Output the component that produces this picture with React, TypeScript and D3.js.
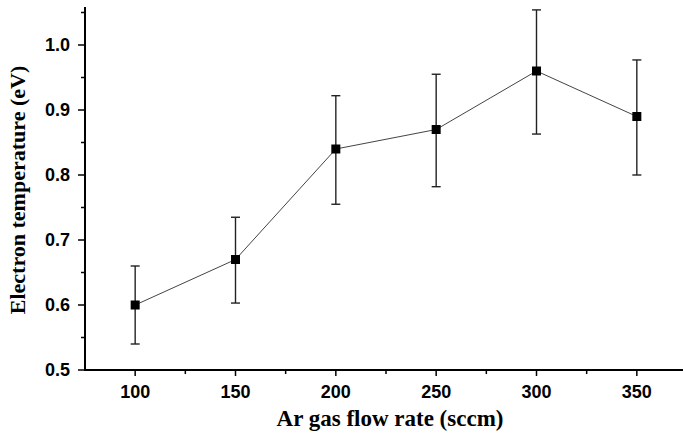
import React from 'react';
import { scaleLinear, line, range } from 'd3';

const width = 683;
const height = 434;

// data
const flowRates = [100, 150, 200, 250, 300, 350];
const temperature = [0.60, 0.67, 0.84, 0.87, 0.96, 0.89];
const errLow = [0.54, 0.603, 0.755, 0.782, 0.863, 0.80];
const errHigh = [0.66, 0.735, 0.922, 0.955, 1.054, 0.977];

const xTicks = [100, 150, 200, 250, 300, 350];
const yTicks = [0.5, 0.6, 0.7, 0.8, 0.9, 1.0];

const x = scaleLinear().domain([75, 375]).range([85, 687]);
const y = scaleLinear().domain([0.5, 1.06]).range([370, 6]);

const sans = '"Liberation Sans", Arial, sans-serif';
const serif = '"Liberation Serif", "Times New Roman", serif';

const App = () => {
    const pts = flowRates.map((f, i) => ({ f, t: temperature[i], lo: errLow[i], hi: errHigh[i] }));
    const path = line<any>().x(d => x(d.f)).y(d => y(d.t))(pts);
    const yMinor = range(0.55, 1.06, 0.1);
    const xMinor = range(125, 376, 50);

    return (
        <svg width={width} height={height} style={{ position: 'absolute', left: 0, top: 0, background: '#fff' }}>
            {/* connecting line */}
            <path d={path || ''} fill="none" stroke="#444" strokeWidth={1} />

            {/* error bars */}
            {pts.map((d, i) => (
                <g key={i} stroke="#222" strokeWidth={1.4}>
                    <line x1={x(d.f)} x2={x(d.f)} y1={y(d.lo)} y2={y(d.hi)} />
                    <line x1={x(d.f) - 4.5} x2={x(d.f) + 4.5} y1={y(d.lo)} y2={y(d.lo)} />
                    <line x1={x(d.f) - 4.5} x2={x(d.f) + 4.5} y1={y(d.hi)} y2={y(d.hi)} />
                </g>
            ))}

            {/* markers */}
            {pts.map((d, i) => (
                <rect key={i} x={x(d.f) - 4.5} y={y(d.t) - 4.5} width={9} height={9} fill="#000" />
            ))}

            {/* y axis */}
            <line x1={85} x2={85} y1={y(0.5)} y2={7} stroke="#000" strokeWidth={2} />
            {yTicks.map(t => (
                <g key={t}>
                    <line x1={78} x2={85} y1={y(t)} y2={y(t)} stroke="#000" strokeWidth={1.5} />
                    <text x={70} y={y(t)} dy="0.35em" textAnchor="end" fontFamily={sans} fontWeight="bold" fontSize={18}>
                        {t.toFixed(1)}
                    </text>
                </g>
            ))}
            {yMinor.map(t => (
                <line key={t} x1={81} x2={85} y1={y(t)} y2={y(t)} stroke="#000" strokeWidth={1.5} />
            ))}

            {/* x axis */}
            <line x1={84} x2={683} y1={370} y2={370} stroke="#000" strokeWidth={2} />
            {xTicks.map(t => (
                <g key={t}>
                    <line x1={x(t)} x2={x(t)} y1={370} y2={376} stroke="#000" strokeWidth={1.5} />
                    <text x={x(t)} y={398} textAnchor="middle" fontFamily={sans} fontWeight="bold" fontSize={18}>
                        {t}
                    </text>
                </g>
            ))}
            {xMinor.map(t => (
                <line key={t} x1={x(t)} x2={x(t)} y1={370} y2={374} stroke="#000" strokeWidth={1.5} />
            ))}

            {/* axis titles */}
            <text x={390} y={426} textAnchor="middle" fontFamily={serif} fontWeight="bold" fontSize={23}>
                Ar gas flow rate (sccm)
            </text>
            <text transform="translate(25, 190) rotate(-90)" textAnchor="middle" fontFamily={serif} fontWeight="bold" fontSize={22}>
                Electron temperature (eV)
            </text>
        </svg>
    );
};

export default App;
